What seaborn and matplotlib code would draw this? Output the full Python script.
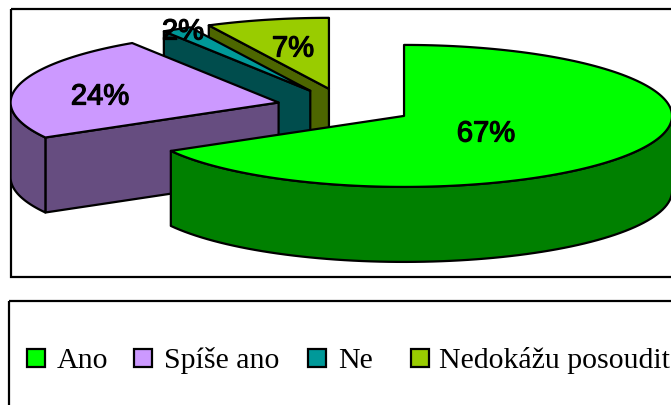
import numpy as np
import seaborn as sns
import matplotlib.pyplot as plt
import matplotlib.patheffects as pe
from matplotlib.patches import Polygon, Rectangle

# data
categories = ["Ano", "Spíše ano", "Ne", "Nedokážu posoudit"]
shares = [66.8, 24.0, 1.8, 7.4]

# style
top_colors = ["#00FF00", "#CC99FF", "#009999", "#99CC00"]
label_xy = [(486, 133.5), (100, 96.5), (183, 31.5), (293, 48.5)]
legend_x = [27, 134, 308, 411]
legend_text_x = [57, 164, 338, 439]
legend_y = 358
center = (345, 106.8)
rx, ry, depth = 268, 71, 75
explode = [0.255, 0.255, 0.26, 0.26]
line = dict(edgecolor="black", linewidth=1.6, joinstyle="round")

sns.set_theme(style="white")
side_colors = [tuple(0.5 * x for x in c) for c in sns.color_palette(top_colors)]

fig = plt.figure(figsize=(6.71, 4.05), dpi=100)
ax = fig.add_axes([0, 0, 1, 1])
ax.set_xlim(0, 671)
ax.set_ylim(405, 0)
ax.axis("off")

# frames of the plot area and of the legend
ax.add_patch(Rectangle((11, 9), 720, 268, fill=False, edgecolor="black", linewidth=1.6))
ax.add_patch(Rectangle((9, 301), 720, 140, fill=False, edgecolor="black", linewidth=1.6))
clip = Rectangle((11, 9), 720, 268, transform=ax.transData)


def pt(ox, oy, deg, down=0):
    t = np.radians(deg)
    return ox + rx * np.cos(t), oy - ry * np.sin(t) + down


def add(points, color, z):
    p = Polygon(points, closed=True, facecolor=color, zorder=z, **line)
    ax.add_patch(p)
    p.set_clip_path(clip)


# slices run clockwise from 12 o'clock, back ones are drawn first
edges = 90 - np.cumsum([0] + shares) * 3.6
order = [3, 2, 1, 0]
for z, i in enumerate(order):
    a1, a2 = edges[i], edges[i + 1]
    mid = np.radians((a1 + a2) / 2)
    ox = center[0] + explode[i] * rx * np.cos(mid)
    oy = center[1] - explode[i] * ry * np.sin(mid)
    apex = (ox, oy)
    base = z * 10 + 2

    # cut faces turned to the viewer
    if np.cos(np.radians(a1)) < -1e-6:
        e = pt(ox, oy, a1)
        add([apex, e, (e[0], e[1] + depth), (ox, oy + depth)], side_colors[i], base)
    if np.cos(np.radians(a2)) > 1e-6:
        e = pt(ox, oy, a2)
        add([apex, e, (e[0], e[1] + depth), (ox, oy + depth)], side_colors[i], base)

    # outer rim, only the part below the ellipse middle
    for lo, hi in [(-180, 0), (180, 360), (-540, -360)]:
        r1, r2 = max(a2, lo), min(a1, hi)
        if r2 > r1:
            arc = np.linspace(r1, r2, 80)
            upper = [pt(ox, oy, d) for d in arc]
            lower = [pt(ox, oy, d, depth) for d in arc[::-1]]
            add(upper + lower, side_colors[i], base + 1)

    # top face
    arc = np.linspace(a1, a2, 160)
    add([apex] + [pt(ox, oy, d) for d in arc], top_colors[i], base + 2)

for v, (x, y) in zip(shares, label_xy):
    ax.text(x, y, f"{round(v)}%", ha="center", va="center", fontsize=21,
            family="Liberation Sans", color="black", zorder=100,
            path_effects=[pe.withStroke(linewidth=0.9, foreground="black")])

# legend row
for name, color, x, tx in zip(categories, top_colors, legend_x, legend_text_x):
    ax.add_patch(Rectangle((x, legend_y - 9), 18, 18, facecolor=color, edgecolor="black", linewidth=1.6))
    ax.text(tx, legend_y, name, ha="left", va="center_baseline", fontsize=21.5,
            family="Liberation Serif", color="black")

fig.savefig("out.png", dpi=100)
